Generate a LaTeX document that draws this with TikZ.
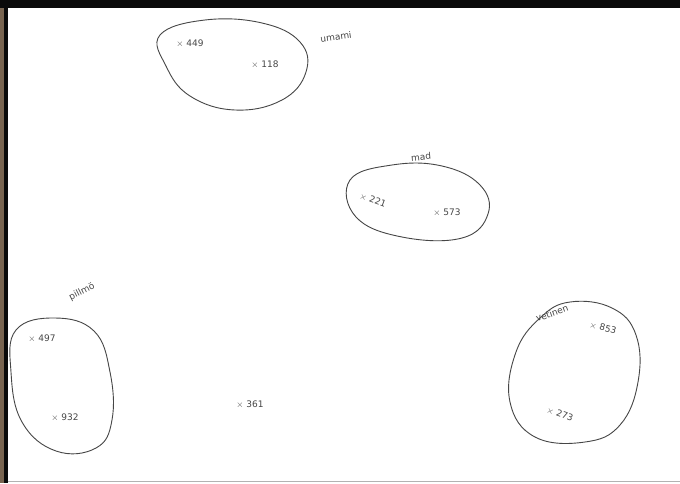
\documentclass[tikz,border=0pt]{standalone}
\usepackage{fontspec}
\setmainfont{DejaVu Sans}
\usetikzlibrary{positioning,calc}
\definecolor{frameink}{RGB}{10,10,10}
\definecolor{woodbrown}{RGB}{120,100,80}
\definecolor{pencil}{RGB}{70,70,70}
\tikzset{
  blob/.style={draw=pencil, line width=0.9pt, smooth cycle, tension=0.7},
  pt/.style={font=\small, text=pencil, inner sep=1pt},
  tag/.style={font=\small, text=pencil, inner sep=1pt},
}

\begin{document}
\begin{tikzpicture}[x=1pt, y=-1pt]
  % page and frame
  \fill[white] (0,0) rectangle (680,483);
  \useasboundingbox (0,0) rectangle (680,483);
  \fill[woodbrown] (0,0) rectangle (4,483);
  \fill[frameink] (4,0) rectangle (8,483);
  \fill[frameink] (0,0) rectangle (680,8);
  \draw[black!30, line width=1pt] (8,481) -- (680,481);
  % clusters
  \draw[blob] plot coordinates {(160,35) (205,20) (262,23) (300,42) (306,72)
    (282,100) (235,110) (190,96) (166,66)};
  \draw[blob] plot coordinates {(350,180) (392,165) (442,166) (480,185) (488,214)
    (462,238) (402,237) (356,217)};
  \draw[blob] plot coordinates {(16,330) (55,318) (94,331) (110,372) (112,420)
    (96,448) (56,451) (22,422) (11,372)};
  \draw[blob] plot coordinates {(570,302) (612,308) (636,335) (638,382) (620,425)
    (585,442) (535,437) (510,402) (516,352) (540,318)};
  % cluster names
  \node[tag, rotate=8] (umami) at (336,37) {umami};
  \node[tag, rotate=5] (mad) at (421,157) {mad};
  \node[tag, rotate=27] (pillmo) at (82,292) {pillmö};
  \node[tag, rotate=20] (vetinen) at (552,313) {vetinen};
  % points
  \node[pt] (p449) at (190,44) {$\times$ 449};
  \node[pt] (p118) at (265,65) {$\times$ 118};
  \node[pt, rotate=-20] (p221) at (373,200) {$\times$ 221};
  \node[pt] (p573) at (447,213) {$\times$ 573};
  \node[pt] (p497) at (42,339) {$\times$ 497};
  \node[pt] (p932) at (65,418) {$\times$ 932};
  \node[pt, rotate=-15] (p853) at (603,328) {$\times$ 853};
  \node[pt, rotate=-20] (p273) at (560,414) {$\times$ 273};
  \node[pt] (p361) at (250,405) {$\times$ 361};
\end{tikzpicture}
\end{document}
